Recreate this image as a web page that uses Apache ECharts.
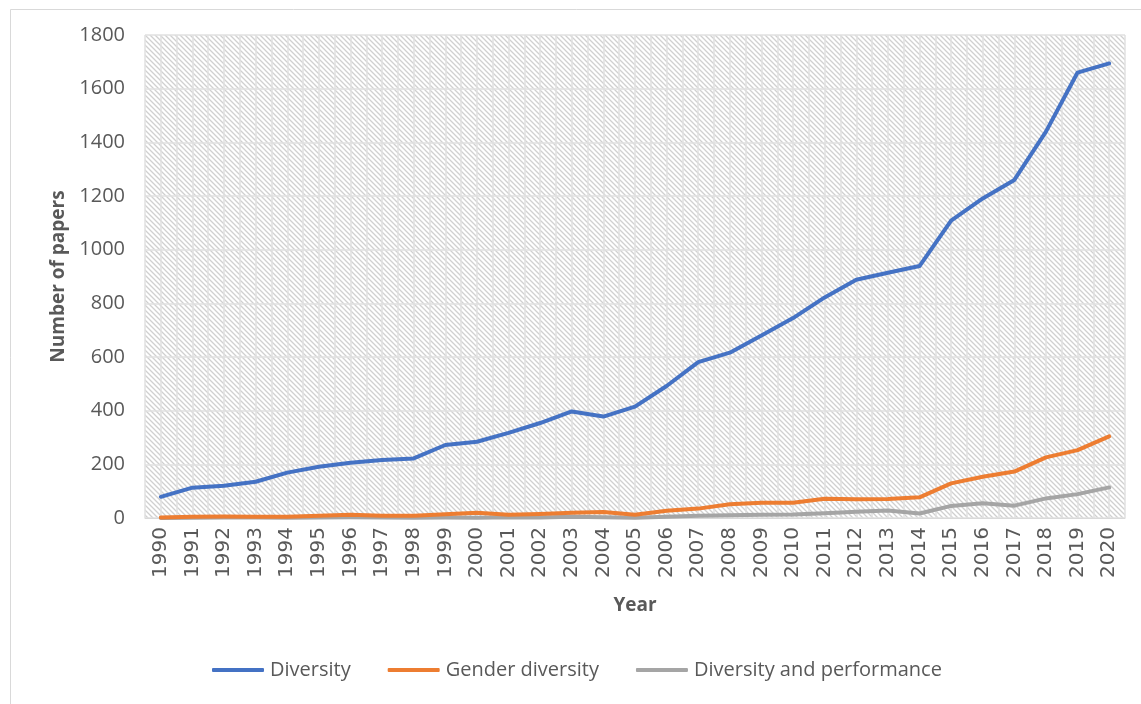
<!DOCTYPE html>
<html>
<head>
<meta charset="utf-8">
<script src="https://cdn.jsdelivr.net/npm/echarts@6/dist/echarts.min.js"></script>
<style>
html,body{margin:0;padding:0;background:#fff;}
#chart{width:1141px;height:704px;}
</style>
</head>
<body>
<div id="chart"></div>
<script>
const years = ['1990','1991','1992','1993','1994','1995','1996','1997','1998','1999','2000','2001','2002','2003','2004','2005','2006','2007','2008','2009','2010','2011','2012','2013','2014','2015','2016','2017','2018','2019','2020'];
const diversity = [79,113,120,135,169,191,206,216,222,272,284,317,354,397,378,415,492,581,616,680,745,822,888,914,939,1108,1191,1260,1440,1660,1694];
const genderDiversity = [2,5,6,5,5,8,12,8,8,14,20,12,15,20,22,12,27,35,51,57,57,72,70,71,77,129,154,173,226,253,304];
const diversityPerformance = [0,1,2,2,1,2,3,2,1,2,1,3,2,5,3,1,5,8,10,12,13,18,23,28,17,45,55,46,73,89,114];
const yTicks = {min:0, max:1800, interval:200};

const FONT = 'Open Sans';
const halfSlots = [];
years.forEach(y => { halfSlots.push(''); halfSlots.push(''); });

function hatch(){
  const c = document.createElement('canvas');
  c.width = 5; c.height = 5;
  const g = c.getContext('2d');
  g.fillStyle = '#ffffff';
  g.fillRect(0,0,5,5);
  g.strokeStyle = '#d0d0d0';
  g.lineWidth = 1.3;
  g.beginPath();
  g.moveTo(-1,-1); g.lineTo(6,6);
  g.moveTo(-1,4); g.lineTo(1,6);
  g.moveTo(4,-1); g.lineTo(6,1);
  g.stroke();
  return c;
}

const chart = echarts.init(document.getElementById('chart'), null, {renderer:'canvas'});
chart.setOption({
  animation:false,
  backgroundColor:'#ffffff',
  graphic:[{
    type:'rect', left:8, top:7, z:-10,
    shape:{width:1200, height:760},
    style:{fill:'none', stroke:'#d9d9d9', lineWidth:1}
  }],
  grid:{
    left:145, right:16, top:35, bottom:186,
    show:true, borderWidth:0,
    backgroundColor:{image:hatch(), repeat:'repeat'}
  },
  legend:{
    bottom:19, left:207,
    itemWidth:52, itemHeight:4, itemGap:37,
    icon:'roundRect',
    textStyle:{fontFamily:FONT, fontSize:20, color:'#595959', padding:[0,0,0,1]},
    data:['Diversity','Gender diversity','Diversity and performance']
  },
  xAxis:[{
    type:'category', data:years, boundaryGap:true,
    name:'Year', nameLocation:'middle', nameGap:78,
    nameTextStyle:{fontFamily:FONT, fontSize:19, fontWeight:'bold', color:'#595959'},
    axisLine:{show:true, lineStyle:{color:'#d9d9d9', width:1}},
    axisTick:{show:false},
    axisLabel:{rotate:90, fontFamily:'DejaVu Sans', fontSize:20, color:'#595959', margin:9, interval:0},
    splitLine:{show:false}
  },{
    type:'category', data:halfSlots, boundaryGap:true, position:'bottom',
    axisLine:{show:false}, axisTick:{show:false}, axisLabel:{show:false},
    splitLine:{show:true, lineStyle:{color:'#e0e0e0', width:1.5}}
  }],
  yAxis:{
    type:'value', min:yTicks.min, max:yTicks.max, interval:yTicks.interval,
    name:'Number of papers', nameLocation:'middle', nameGap:77,
    nameTextStyle:{fontFamily:FONT, fontSize:19, fontWeight:'bold', color:'#595959'},
    axisLine:{show:false}, axisTick:{show:false},
    axisLabel:{fontFamily:FONT, fontSize:20, color:'#595959', margin:20, formatter:v => String(v)},
    splitLine:{show:true, lineStyle:{color:'#e0e0e0', width:1.5}}
  },
  series:[
    {name:'Diversity', type:'line', data:diversity, showSymbol:false, symbol:'none',
     lineStyle:{color:'#4472C4', width:4, cap:'round', join:'round'}, itemStyle:{color:'#4472C4'}, z:5},
    {name:'Gender diversity', type:'line', data:genderDiversity, showSymbol:false, symbol:'none',
     lineStyle:{color:'#ED7D31', width:4, cap:'round', join:'round'}, itemStyle:{color:'#ED7D31'}, z:4},
    {name:'Diversity and performance', type:'line', data:diversityPerformance, showSymbol:false, symbol:'none',
     lineStyle:{color:'#A5A5A5', width:4, cap:'round', join:'round'}, itemStyle:{color:'#A5A5A5'}, z:3}
  ]
});
</script>
</body>
</html>
